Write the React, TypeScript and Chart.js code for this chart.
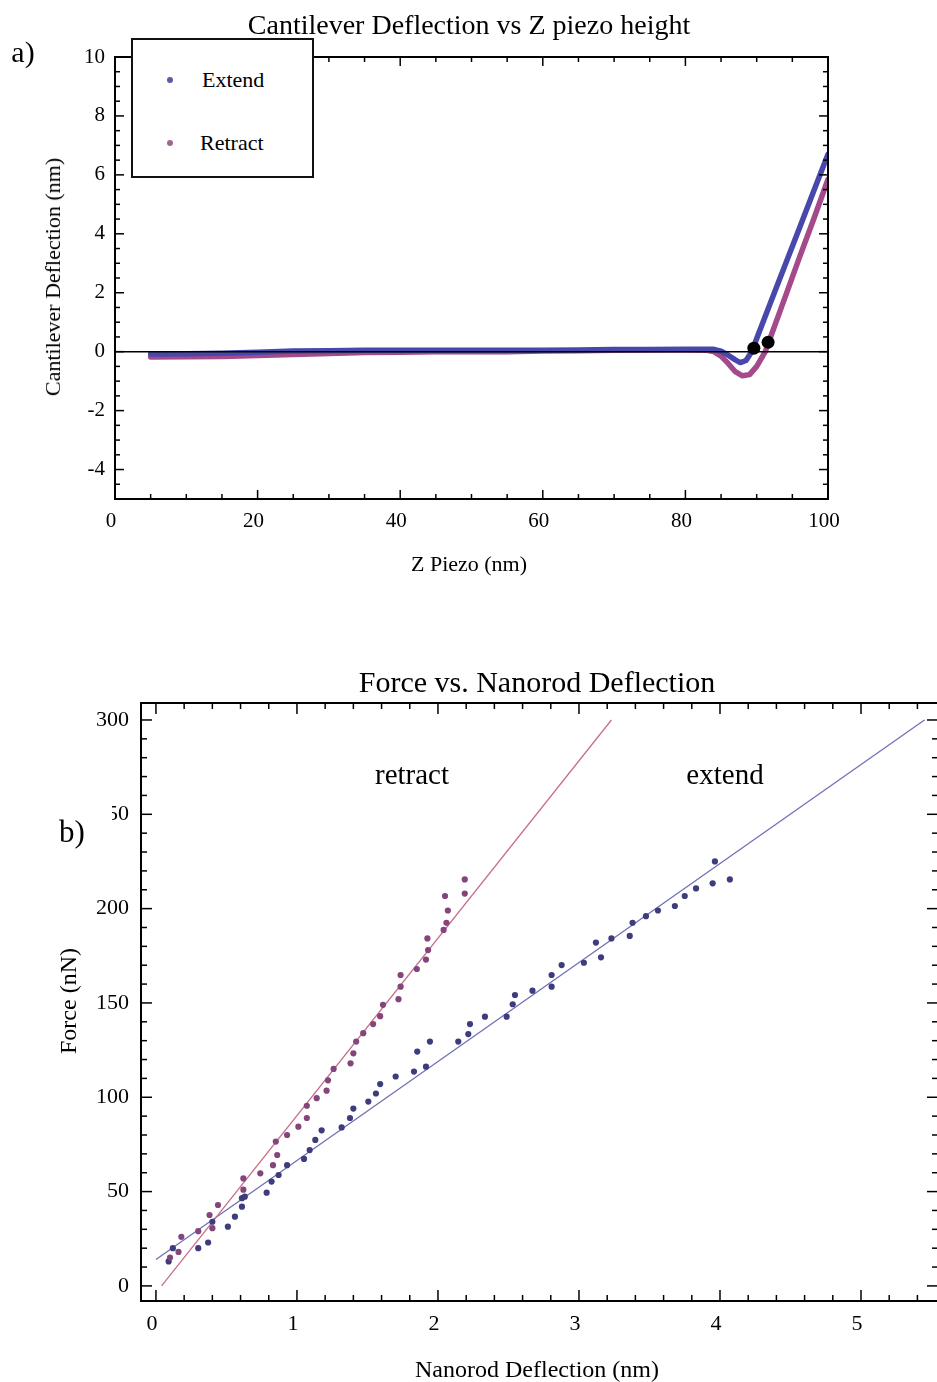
import React, { useEffect, useRef } from 'react';
import { Chart, registerables } from 'chart.js';
Chart.register(...registerables);

const SERIF = "'Liberation Serif', 'Times New Roman', Times, serif";

// ---------- a) Cantilever Deflection vs Z piezo height ----------
const extendZ = [5, 10, 15, 20, 25, 30, 35, 40, 45, 50, 55, 60, 65, 70, 75, 80, 84, 85, 86, 87, 87.7, 88.5, 89.3, 90, 92, 94, 96, 98, 100];
const extendDefl = [-0.08, -0.07, -0.05, -0.02, 0.02, 0.03, 0.05, 0.05, 0.05, 0.05, 0.05, 0.05, 0.06, 0.07, 0.07, 0.08, 0.08, 0.02, -0.12, -0.28, -0.37, -0.3, 0, 0.45, 1.7, 2.95, 4.2, 5.45, 6.7];
const retractZ = [5, 10, 15, 20, 25, 30, 35, 40, 45, 50, 55, 60, 65, 70, 75, 80, 83, 84, 85, 86, 87, 88, 89, 90, 91.2, 92, 94, 96, 98, 100];
const retractDefl = [-0.18, -0.17, -0.16, -0.13, -0.1, -0.06, -0.03, -0.02, 0, 0, 0, 0.02, 0.03, 0.05, 0.06, 0.06, 0.05, 0, -0.15, -0.4, -0.68, -0.82, -0.78, -0.5, 0, 0.53, 1.86, 3.2, 4.5, 5.85];
const contactZ = [89.6, 91.6];
const contactDefl = [0.12, 0.32];
const topXTicks = [0, 20, 40, 60, 80, 100];
const topYTicks = [-4, -2, 0, 2, 4, 6, 8, 10];

// ---------- b) Force vs. Nanorod Deflection ----------
const retractDefX = [0.10, 0.16, 0.18, 0.30, 0.38, 0.40, 0.44, 0.62, 0.62, 0.74, 0.83, 0.85, 0.86, 0.93, 1.01, 1.07, 1.07, 1.14, 1.21, 1.22, 1.26, 1.38, 1.40, 1.42, 1.47, 1.54, 1.59, 1.61, 1.72, 1.735, 1.735, 1.85, 1.915, 1.93, 1.925, 2.04, 2.06, 2.07, 2.05, 2.19, 2.19];
const retractForce = [15, 18, 26, 29, 37.6, 30.6, 42.9, 51, 57, 59.7, 64, 76.5, 69.4, 80, 84.4, 89, 95.5, 99.5, 103.5, 109, 115, 118, 123.3, 129.5, 134, 138.8, 143, 149, 152, 158.6, 164.8, 168, 173, 178, 184.2, 188.7, 192.5, 199, 206.7, 208, 215.5];
const extendDefX = [0.09, 0.12, 0.30, 0.37, 0.40, 0.51, 0.56, 0.61, 0.61, 0.63, 0.785, 0.82, 0.87, 0.93, 1.05, 1.09, 1.13, 1.175, 1.317, 1.376, 1.40, 1.506, 1.56, 1.59, 1.70, 1.83, 1.853, 1.915, 1.943, 2.144, 2.215, 2.227, 2.333, 2.487, 2.53, 2.546, 2.67, 2.806, 2.806, 2.877, 3.035, 3.12, 3.156, 3.23, 3.36, 3.38, 3.475, 3.56, 3.68, 3.75, 3.83, 3.948, 3.964, 4.07];
const extendForce = [13, 20, 20, 23, 34, 31.4, 36.7, 42, 46.5, 47.3, 49.4, 55.3, 58.8, 64, 67.3, 72, 77.4, 82.5, 84, 89, 94, 97.7, 102, 107, 111, 113.6, 124.2, 116.2, 129.5, 129.5, 133.5, 138.8, 142.7, 142.7, 149.3, 154.2, 156.5, 158.6, 164.8, 170.1, 171.3, 182, 174.2, 184.2, 185.5, 192.5, 196, 199, 201.4, 206.7, 210.7, 213.4, 225, 215.5];
const retractFitX = [0.04, 3.23];
const retractFitY = [0, 300];
const extendFitX = [0.0, 5.45];
const extendFitY = [14, 300];
const botXTicks = [0, 1, 2, 3, 4, 5];
const botYTicks = [0, 50, 100, 150, 200, 250, 300];

const pts = (xs: number[], ys: number[]) => xs.map((x, i) => ({ x, y: ys[i] }));

const frameTicks = {
  id: 'frameTicks',
  afterDraw(chart: any, _args: any, o: any) {
    const { ctx, chartArea: a } = chart;
    const xs = chart.scales.x;
    const ys = chart.scales.y;
    ctx.save();
    ctx.strokeStyle = '#000';
    const seg = (x1: number, y1: number, x2: number, y2: number) => {
      ctx.beginPath();
      ctx.moveTo(x1, y1);
      ctx.lineTo(x2, y2);
      ctx.stroke();
    };
    if (o.zeroLine) {
      ctx.lineWidth = o.zeroWidth;
      const py = ys.getPixelForValue(0);
      seg(a.left, py, a.right, py);
    }
    const each = (scale: any, minor: number, major: number, fn: (p: number, maj: boolean) => void) => {
      const i0 = Math.ceil(scale.min / minor - 1e-9);
      const i1 = Math.floor(scale.max / minor + 1e-9);
      for (let i = i0; i <= i1; i++) {
        const v = i * minor;
        const r = v / major;
        fn(scale.getPixelForValue(v), Math.abs(r - Math.round(r)) < 1e-6);
      }
    };
    ctx.lineWidth = o.tickWidth;
    each(xs, o.xMinor, o.xMajor, (px, maj) => {
      const L = maj ? o.majorLen : o.minorLen;
      seg(px, a.bottom, px, a.bottom - L);
      seg(px, a.top, px, a.top + L);
    });
    each(ys, o.yMinor, o.yMajor, (py, maj) => {
      const L = maj ? o.majorLen : o.minorLen;
      seg(a.left, py, a.left + L, py);
      seg(a.right, py, a.right - L, py);
    });
    ctx.lineWidth = o.frameWidth;
    ctx.strokeRect(a.left, a.top, a.right - a.left, a.bottom - a.top);
    ctx.restore();
  },
};

const makeScale = (min: number, max: number, ticks: number[], isX: boolean, size: number, fontSize: number, padding: number) => ({
  type: 'linear',
  min,
  max,
  grid: { display: false, drawTicks: false },
  border: { display: false },
  afterBuildTicks: (s: any) => {
    s.ticks = ticks.map((v) => ({ value: v }));
  },
  afterFit: (s: any) => {
    if (isX) s.height = size;
    else s.width = size;
  },
  ticks: {
    color: '#000',
    font: { family: SERIF, size: fontSize },
    padding,
    labelOffset: isX ? -4 : 0,
    maxRotation: 0,
    minRotation: 0,
    autoSkip: false,
  },
});

const Txt = ({ x, y, size, children, rotate }: any) => (
  <div
    style={{
      position: 'absolute',
      left: x,
      top: y,
      transform: `translate(-50%, -50%)${rotate ? ' rotate(-90deg)' : ''}`,
      fontFamily: SERIF,
      fontSize: size,
      lineHeight: 1,
      whiteSpace: 'nowrap',
      color: '#000',
    }}
  >
    {children}
  </div>
);

export default function App() {
  const topRef = useRef<HTMLCanvasElement>(null);
  const botRef = useRef<HTMLCanvasElement>(null);

  useEffect(() => {
    const topChart = new Chart(topRef.current as HTMLCanvasElement, {
      type: 'scatter',
      data: {
        datasets: [
          { label: 'Contact', data: pts(contactZ, contactDefl), showLine: false, pointRadius: 6.5, backgroundColor: '#000', borderWidth: 0, order: 0 },
          { label: 'Extend', data: pts(extendZ, extendDefl), showLine: true, borderColor: '#4848ac', borderWidth: 5.5, pointRadius: 0, borderJoinStyle: 'round', borderCapStyle: 'round', order: 1 },
          { label: 'Retract', data: pts(retractZ, retractDefl), showLine: true, borderColor: '#a4498a', borderWidth: 5.5, pointRadius: 0, borderJoinStyle: 'round', borderCapStyle: 'round', order: 2 },
        ],
      } as any,
      options: {
        responsive: false,
        animation: false,
        events: [],
        layout: { padding: { top: 57, right: 109, left: 0, bottom: 0 } },
        scales: {
          x: makeScale(0, 100, topXTicks, true, 101, 21, 10),
          y: makeScale(-5, 10, topYTicks, false, 115, 21, 10),
        } as any,
        plugins: {
          legend: { display: false },
          title: { display: false },
          tooltip: { enabled: false },
          frameTicks: { xMinor: 5, xMajor: 20, yMinor: 0.5, yMajor: 2, majorLen: 9, minorLen: 5, tickWidth: 1.5, frameWidth: 2, zeroLine: true, zeroWidth: 1.5 },
        } as any,
      },
      plugins: [frameTicks],
    });

    const botChart = new Chart(botRef.current as HTMLCanvasElement, {
      type: 'scatter',
      data: {
        datasets: [
          { label: 'Retract', data: pts(retractDefX, retractForce), backgroundColor: '#84457a', pointRadius: 3.1, borderWidth: 0, order: 0 },
          { label: 'Extend', data: pts(extendDefX, extendForce), backgroundColor: '#3d3d7e', pointRadius: 3.1, borderWidth: 0, order: 1 },
          { label: 'Retract fit', data: pts(retractFitX, retractFitY), showLine: true, borderColor: '#c66f8c', borderWidth: 1.3, pointRadius: 0, order: 2 },
          { label: 'Extend fit', data: pts(extendFitX, extendFitY), showLine: true, borderColor: '#7070b6', borderWidth: 1.3, pointRadius: 0, order: 3 },
        ],
      } as any,
      options: {
        responsive: false,
        animation: false,
        events: [],
        layout: { padding: { top: 63, right: 7, left: 0, bottom: 0 } },
        scales: {
          x: makeScale(-0.106, 5.546, botXTicks, true, 81, 22, 10),
          y: makeScale(-8, 309, botYTicks, false, 141, 22, 12),
        } as any,
        plugins: {
          legend: { display: false },
          title: { display: false },
          tooltip: { enabled: false },
          frameTicks: { xMinor: 0.2, xMajor: 1, yMinor: 10, yMajor: 50, majorLen: 11, minorLen: 6, tickWidth: 1.5, frameWidth: 2, zeroLine: false },
        } as any,
      },
      plugins: [frameTicks],
    });

    return () => {
      topChart.destroy();
      botChart.destroy();
    };
  }, []);

  return (
    <div style={{ position: 'absolute', left: 0, top: 0, width: 937, height: 1382, overflow: 'hidden', background: '#fff' }}>
      <canvas ref={topRef} width={937} height={600} style={{ position: 'absolute', left: 0, top: 0 }} />
      <canvas ref={botRef} width={945} height={742} style={{ position: 'absolute', left: 0, top: 640 }} />

      {/* chart a) texts */}
      <Txt x={469} y={25} size={28}>Cantilever Deflection vs Z piezo height</Txt>
      <Txt x={23} y={52} size={30}>a)</Txt>
      <Txt x={469} y={564} size={22}>Z Piezo (nm)</Txt>
      <Txt x={53} y={277} size={22} rotate>Cantilever Deflection (nm)</Txt>
      <div style={{ position: 'absolute', left: 131, top: 38, width: 183, height: 140, boxSizing: 'border-box', border: '2px solid #111', background: '#fff' }}>
        <div style={{ position: 'absolute', left: 34, top: 37, width: 6, height: 6, borderRadius: 3, background: '#5a5aa8' }} />
        <div style={{ position: 'absolute', left: 69, top: 40, transform: 'translateY(-50%)', fontFamily: SERIF, fontSize: 22, lineHeight: 1, whiteSpace: 'nowrap' }}>Extend</div>
        <div style={{ position: 'absolute', left: 34, top: 100, width: 6, height: 6, borderRadius: 3, background: '#a06890' }} />
        <div style={{ position: 'absolute', left: 67, top: 103, transform: 'translateY(-50%)', fontFamily: SERIF, fontSize: 22, lineHeight: 1, whiteSpace: 'nowrap' }}>Retract</div>
      </div>

      {/* chart b) texts */}
      <Txt x={537} y={682} size={30}>Force vs. Nanorod Deflection</Txt>
      <Txt x={412} y={774} size={29}>retract</Txt>
      <Txt x={725} y={774} size={29}>extend</Txt>
      <Txt x={537} y={1369} size={24}>Nanorod Deflection (nm)</Txt>
      <Txt x={68} y={1001} size={24} rotate>Force (nN)</Txt>
      <div style={{ position: 'absolute', left: 50, top: 803, width: 62, height: 52, background: '#fff' }} />
      <Txt x={72} y={831} size={31}>b)</Txt>
    </div>
  );
}
